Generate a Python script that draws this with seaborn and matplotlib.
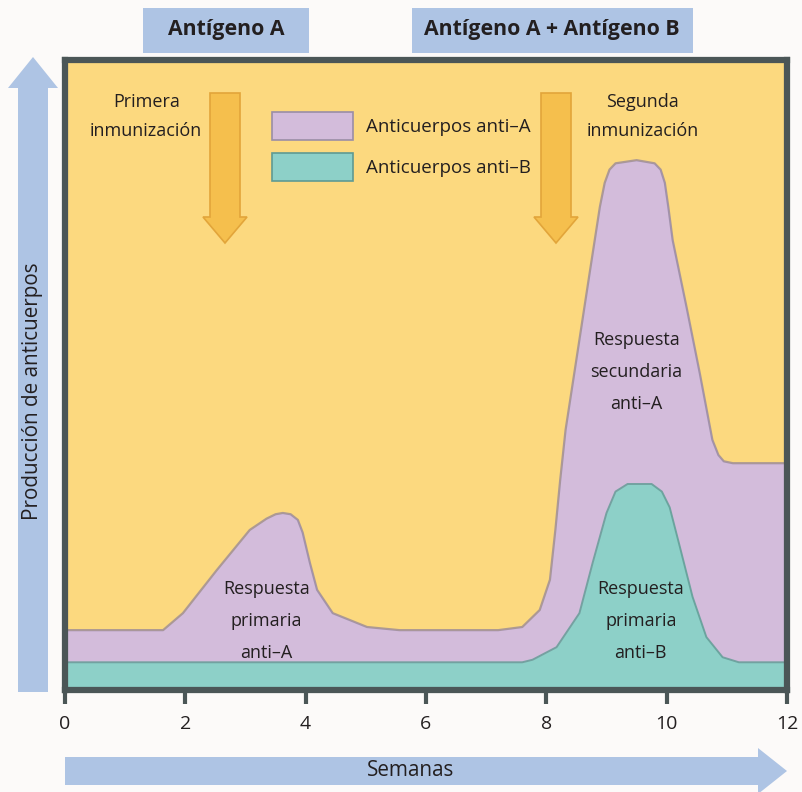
import numpy as np
import pandas as pd
import seaborn as sns
import matplotlib.pyplot as plt
from matplotlib.patches import Rectangle, FancyArrow, Patch

# data (weeks, relative antibody level 0-100)
weeks_a = [0, 1.63, 1.96, 2.52, 3.07, 3.35, 3.5, 3.62, 3.75, 3.87, 3.95, 4.07, 4.19, 4.45,
           5.02, 5.56, 7.2, 7.6, 7.89, 8.06, 8.15, 8.23, 8.32, 8.55, 8.72, 8.89, 8.97,
           9.05, 9.15, 9.5, 9.8, 9.9, 9.97, 10.03, 10.1, 10.33, 10.55, 10.76, 10.86,
           10.95, 11.1, 12]
anti_a = [9.5, 9.5, 12.2, 19.0, 25.4, 27.2, 27.9, 28.1, 27.9, 27.0, 25.0, 20.2, 15.9, 12.2,
          10.0, 9.5, 9.5, 10.0, 12.7, 17.5, 25.4, 33.3, 41.3, 55.6, 66.2, 76.7, 80.5,
          82.6, 83.6, 84.1, 83.6, 82.6, 80.5, 76.5, 71.4, 60.8, 50.3, 39.7, 37.3,
          36.3, 36.0, 36.0]
weeks_b = [0, 7.6, 7.77, 8.17, 8.55, 8.77, 9.0, 9.15, 9.35, 9.75, 9.92, 10.05, 10.22,
           10.43, 10.66, 10.93, 11.2, 12]
anti_b = [4.4, 4.4, 4.8, 6.8, 12.2, 20.2, 28.1, 31.5, 32.7, 32.7, 31.5, 29.0, 22.7,
          14.8, 8.4, 5.2, 4.4, 4.4]
x_ticks = [0, 2, 4, 6, 8, 10, 12]

df_a = pd.DataFrame({'semanas': weeks_a, 'nivel': anti_a})
df_b = pd.DataFrame({'semanas': weeks_b, 'nivel': anti_b})

# colours
yellow = '#fcd97f'
purple = '#d3bcdb'
teal = '#8dd0c8'
blue = '#aec4e4'
orange = '#f5bf4d'
frame = '#4b5657'
ink = '#231f20'

sns.set_theme(style='white')
plt.rcParams['font.family'] = ['Open Sans', 'DejaVu Sans']

W, H = 803, 792
fig = plt.figure(figsize=(W / 100, H / 100), dpi=100)
fig.patch.set_facecolor('#fcfaf9')

ax = fig.add_axes([65 / W, 1 - 690 / H, 722 / W, 630 / H])
ax.set_facecolor(yellow)

ax.fill_between(df_a['semanas'], 0, df_a['nivel'], color=purple, lw=0, zorder=2)
sns.lineplot(data=df_a, x='semanas', y='nivel', color='#8d8099', lw=1.6, alpha=0.7,
             ax=ax, zorder=3)
ax.fill_between(df_b['semanas'], 0, df_b['nivel'], color=teal, lw=0, zorder=4)
sns.lineplot(data=df_b, x='semanas', y='nivel', color='#5f9a93', lw=1.4, alpha=0.8,
             ax=ax, zorder=5)

ax.set_xlim(0, 12)
ax.set_ylim(0, 100)
ax.set_xticks(x_ticks)
ax.set_xticklabels([str(t) for t in x_ticks], fontsize=14, color=ink)
ax.set_yticks([])
ax.set_xlabel('')
ax.set_ylabel('')
ax.tick_params(axis='x', direction='out', length=10, width=3, color=frame, pad=8,
               bottom=True)
for s in ax.spines.values():
    s.set_color(frame)
    s.set_linewidth(4.5)
    s.set_zorder(6)

# texts inside the plot
txt = dict(ha='center', va='center', fontsize=13, color=ink, linespacing=2.0, zorder=7)
ax.text(3.35, 11.0, 'Respuesta\nprimaria\nanti–A', **txt)
ax.text(9.5, 50.5, 'Respuesta\nsecundaria\nanti–A', **txt)
ax.text(9.57, 11.0, 'Respuesta\nprimaria\nanti–B', **txt)
ax.text(1.35, 91.0, 'Primera\ninmunización', **dict(txt, linespacing=1.8))
ax.text(9.6, 91.0, 'Segunda\ninmunización', **dict(txt, linespacing=1.8))

# legend
handles = [Patch(facecolor=purple, edgecolor='#9a8ea6', lw=1.2, label='Anticuerpos anti–A'),
           Patch(facecolor=teal, edgecolor='#5f9a93', lw=1.2, label='Anticuerpos anti–B')]
leg = ax.legend(handles=handles, loc='upper left', bbox_to_anchor=(272 / W, 1 - 112 / H),
                bbox_transform=fig.transFigure, frameon=False, fontsize=13.5,
                handlelength=4.3, handleheight=1.93, labelspacing=0.69,
                handletextpad=0.69, borderpad=0, borderaxespad=0)
for t in leg.get_texts():
    t.set_color(ink)

# decorations in pixel coordinates
ov = fig.add_axes([0, 0, 1, 1], zorder=10)
ov.set_xlim(0, W)
ov.set_ylim(H, 0)
ov.axis('off')
ov.patch.set_alpha(0)

ov.add_patch(Rectangle((143, 8), 166, 45, color=blue, lw=0))
ov.add_patch(Rectangle((412, 8), 281, 45, color=blue, lw=0))
ov.text(226, 30, 'Antígeno A', ha='center', va='center', fontsize=15.3, fontweight='bold', color=ink)
ov.text(552, 30, 'Antígeno A + Antígeno B', ha='center', va='center', fontsize=15.3,
        fontweight='bold', color=ink)

ov.add_patch(FancyArrow(33, 692, 0, -635, width=30, head_width=50, head_length=31,
                        length_includes_head=True, color=blue, lw=0))
ov.text(33, 391, 'Producción de anticuerpos', rotation=90, ha='center', va='center',
        fontsize=14.9, color=ink)
ov.add_patch(FancyArrow(65, 771, 722, 0, width=28, head_width=46, head_length=29,
                        length_includes_head=True, color=blue, lw=0))
ov.text(411, 771, 'Semanas', ha='center', va='center', fontsize=14.9, color=ink)

for xc in [225, 556]:
    ov.add_patch(FancyArrow(xc, 93, 0, 150, width=30, head_width=44, head_length=26,
                            length_includes_head=True, facecolor=orange,
                            edgecolor='#e2a53a', lw=1.2))

fig.savefig('out.png', dpi=100, facecolor=fig.get_facecolor())
